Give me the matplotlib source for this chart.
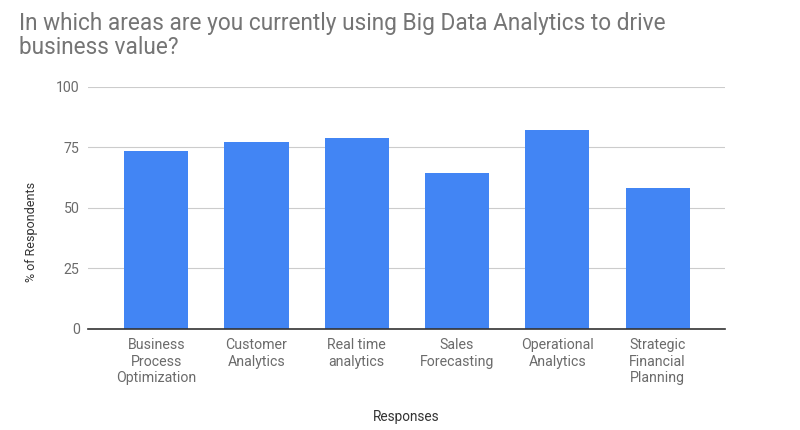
import matplotlib
matplotlib.use("Agg")
import matplotlib.pyplot as plt

categories = ["Business\nProcess\nOptimization", "Customer\nAnalytics", "Real time\nanalytics",
              "Sales\nForecasting", "Operational\nAnalytics", "Strategic\nFinancial\nPlanning"]
values = [73.7, 77.4, 78.8, 64.3, 82.1, 58.1]
yticks = [0, 25, 50, 75, 100]

plt.rcParams['font.family'] = ['Roboto', 'DejaVu Sans']

fig = plt.figure(figsize=(8, 4.3), dpi=100)
ax = fig.add_axes([0.11, 0.2356, 0.796, 0.5621])

x = list(range(len(categories)))
ax.bar(x, values, width=0.64, color="#4285F4", zorder=3)

ax.set_xlim(-0.68, 5.67)
ax.set_ylim(0, 100)
ax.set_yticks(yticks)
ax.set_yticklabels([str(t) for t in yticks])
ax.set_xticks(x)
ax.set_xticklabels(categories, linespacing=1.22)

ax.grid(axis="y", color="#cccccc", linewidth=0.8, zorder=0)
ax.tick_params(axis="both", length=0, labelsize=10.2, labelcolor="#6b6b6b")
ax.tick_params(axis="x", pad=7)
ax.tick_params(axis="y", pad=6)
for s in ["top", "right", "left"]:
    ax.spines[s].set_visible(False)
ax.spines["bottom"].set_color("#333333")
ax.spines["bottom"].set_linewidth(1.2)
ax.spines["bottom"].set_zorder(4)

ax.set_ylabel("% of Respondents", fontsize=9, color="#333333")
ax.yaxis.set_label_coords(-0.079, 0.40)
ax.set_xlabel("Responses", fontsize=9.8, color="#333333")
ax.xaxis.set_label_coords(0.5, -0.335)

fig.text(0.024, 0.972, "In which areas are you currently using Big Data Analytics to drive\nbusiness value?",
         fontsize=16.3, color="#757575", va="top", ha="left", linespacing=1.05)

fig.savefig("out.png", dpi=100)
